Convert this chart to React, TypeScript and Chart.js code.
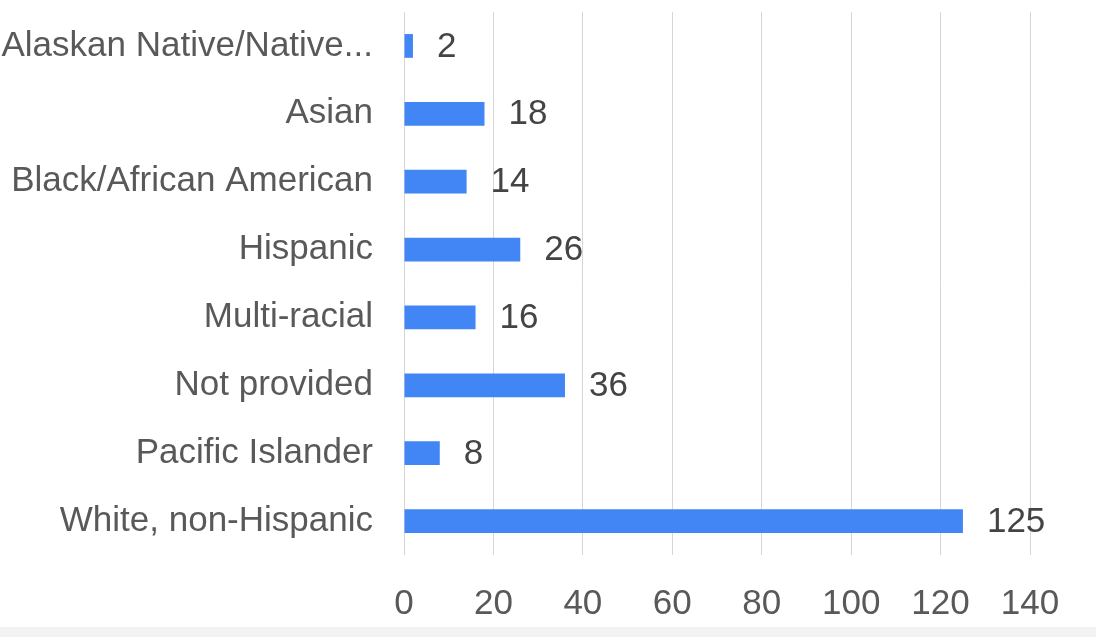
import React, { useEffect, useRef } from "react";
import { Chart, registerables } from "chart.js";

Chart.register(...registerables);

const categories = [
  "Alaskan Native/Native...",
  "Asian",
  "Black/African American",
  "Hispanic",
  "Multi-racial",
  "Not provided",
  "Pacific Islander",
  "White, non-Hispanic",
];
const counts = [2, 18, 14, 26, 16, 36, 8, 125];
const xTicks = [0, 20, 40, 60, 80, 100, 120, 140];

const FONT = "'Liberation Sans', Arial, sans-serif";
const FONT_SIZE = 35;
const TEXT = "#595959";

const valueLabels = {
  id: "valueLabels",
  afterDatasetsDraw(chart: any) {
    const ctx = chart.ctx;
    const meta = chart.getDatasetMeta(0);
    ctx.save();
    ctx.font = `${FONT_SIZE}px ${FONT}`;
    ctx.fillStyle = "#444444";
    ctx.textAlign = "left";
    ctx.textBaseline = "middle";
    meta.data.forEach((bar: any, i: number) => {
      ctx.fillText(String(counts[i]), bar.x + 24, bar.y + 1);
    });
    ctx.restore();
  },
};

export default function App() {
  const ref = useRef<HTMLCanvasElement | null>(null);
  useEffect(() => {
    if (!ref.current) return;
    const chart = new Chart(ref.current, {
      type: "bar",
      data: {
        labels: categories,
        datasets: [
          {
            data: counts,
            backgroundColor: "#4285F4",
            borderWidth: 0,
            barPercentage: 1,
            categoryPercentage: 0.35,
          },
        ],
      },
      options: {
        indexAxis: "y",
        animation: false,
        responsive: false,
        maintainAspectRatio: false,
        layout: { padding: { top: 12, right: 66, left: 0, bottom: 0 } },
        plugins: { legend: { display: false }, tooltip: { enabled: false } },
        scales: {
          x: {
            min: 0,
            max: 140,
            afterBuildTicks: (scale: any) => {
              scale.ticks = xTicks.map((v) => ({ value: v }));
            },
            afterFit: (scale: any) => {
              scale.height = 82;
              scale.paddingLeft = 0;
              scale.paddingRight = 0;
            },
            grid: { color: "#d6d6d6", drawTicks: false, lineWidth: 1 },
            border: { display: false },
            ticks: {
              padding: 28,
              color: TEXT,
              font: { family: FONT, size: FONT_SIZE },
            },
          },
          y: {
            afterFit: (scale: any) => {
              scale.width = 404;
              scale.paddingTop = 0;
              scale.paddingBottom = 0;
            },
            grid: { display: false, drawTicks: false },
            border: { display: false },
            ticks: {
              padding: 31,
              color: TEXT,
              autoSkip: false,
              font: { family: FONT, size: FONT_SIZE },
            },
          },
        },
      },
      plugins: [valueLabels],
    });
    return () => chart.destroy();
  }, []);
  return (
    <div style={{ position: "fixed", left: 0, top: 0, width: 1096, height: 637, background: "#fff" }}>
      <canvas ref={ref} width={1096} height={637} style={{ display: "block" }} />
      <div style={{ position: "absolute", left: 0, top: 627, width: 1096, height: 10, background: "#f2f2f2" }} />
    </div>
  );
}
